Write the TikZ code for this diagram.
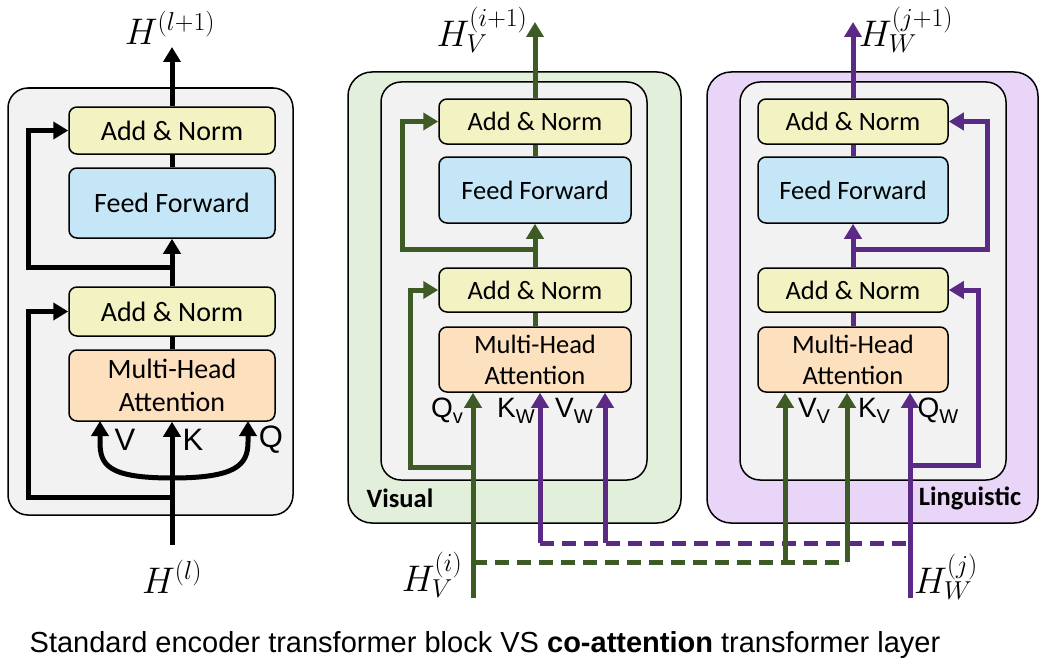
\RequirePackage{fix-cm}
\documentclass[tikz,border=0pt]{standalone}
\usepackage{fontspec}
\usetikzlibrary{arrows.meta}
\newfontfamily\carl{Carlito}
\newfontfamily\arl{Liberation Sans}
\definecolor{grn}{HTML}{3E5B25}
\definecolor{pur}{HTML}{5B2A86}
\definecolor{addc}{HTML}{F2F2C2}
\definecolor{ffc}{HTML}{C4E6F6}
\definecolor{mhac}{HTML}{FDE0BE}
\definecolor{grayc}{HTML}{F2F2F2}
\definecolor{grnbg}{HTML}{E2EFDA}
\definecolor{purbg}{HTML}{E8D5F8}
\newcommand{\sbs}[1]{{\fontsize{20}{20}\selectfont\raisebox{-6pt}{#1}}}
\begin{document}
\begin{tikzpicture}[x=1pt,y=-1pt,
  blk/.style={draw, line width=1.5pt, rounded corners=8pt, inner sep=0pt, align=center},
  addL/.style={blk, fill=addc, minimum width=206pt, font=\carl\fontsize{28}{30}\selectfont},
  ffL/.style={blk, fill=ffc, minimum width=206pt, font=\carl\fontsize{28}{30}\selectfont},
  mhaL/.style={blk, fill=mhac, minimum width=206pt, font=\carl\fontsize{28}{30}\selectfont},
  addR/.style={blk, fill=addc, minimum width=192pt, font=\carl\fontsize{26.5}{30}\selectfont},
  ffR/.style={blk, fill=ffc, minimum width=192pt, font=\carl\fontsize{26.5}{30}\selectfont},
  mhaR/.style={blk, fill=mhac, minimum width=192pt, font=\carl\fontsize{26.5}{30}\selectfont},
  frame/.style={draw, line width=1.5pt, rounded corners=20pt},
  flow/.style={line width=5pt},
  arr/.style={flow, -{Triangle[length=15pt,width=17pt]}},
  dsh/.style={line width=5pt, dash pattern=on 14pt off 8pt},
  hlab/.style={inner sep=0pt, font=\fontsize{37}{42}\selectfont},
  io/.style={inner sep=0pt, font=\arl\fontsize{31}{34}\selectfont},
  ios/.style={inner sep=0pt, font=\arl\fontsize{28}{30}\selectfont},
  tag/.style={inner sep=0pt, font=\carl\bfseries\fontsize{26.5}{30}\selectfont}
]
\useasboundingbox (0,0) rectangle (1047,669);
\fill[white] (0,0) rectangle (1047,669);

% ---------------- left: standard block ----------------
\draw[frame, fill=grayc] (8,88) rectangle (293,515);
\node[addL, minimum height=47pt] (an1) at (172,130.5) {Add \& Norm};
\node[ffL, minimum height=70pt] (ff1) at (172,203) {Feed Forward};
\node[addL, minimum height=49pt] (an2) at (172,311.5) {Add \& Norm};
\node[mhaL, minimum height=71pt] (mha1) at (172,385.5) {Multi-Head\\[3pt]Attention};
\coordinate (hin) at (172,545);
\coordinate (hout) at (172,47);
\coordinate (r1) at (172,497);
\coordinate (r2) at (172,267);
\coordinate (cv) at (172,478);
\draw[arr] (hin) -- (mha1.south);
\draw[flow] (mha1.north) -- (an2.south);
\draw[arr] (an2.north) -- (ff1.south);
\draw[flow] (ff1.north) -- (an1.south);
\draw[arr] (an1.north) -- (hout);
\draw[arr] (r1) -- (28,497) -- (28,311.5) -- (an2.west);
\draw[arr] (r2) -- (28,267) -- (28,130.5) -- (an1.west);
\draw[arr] (cv) .. controls (108,478) and (100,465) .. (100,442) -- (100,421);
\draw[arr] (cv) .. controls (236,478) and (248,465) .. (248,442) -- (248,421);
\node[io] (lv) at (125,440) {V};
\node[io] (lk) at (193,440) {K};
\node[io] (lq) at (271,440) {Q};
\node[hlab] (hl1) at (170,28) {$H^{(l+1)}$};
\node[hlab] (hl) at (172,577) {$H^{(l)}$};

% ---------------- middle: visual stream ----------------
\draw[frame, fill=grnbg, rounded corners=24pt] (348,72) rectangle (681,523);
\draw[frame, fill=grayc] (381,82) rectangle (647,480);
\node[addR, minimum height=45pt] (an3) at (535,121.5) {Add \& Norm};
\node[ffR, minimum height=66pt] (ff2) at (535,190) {Feed Forward};
\node[addR, minimum height=44pt] (an4) at (535,290) {Add \& Norm};
\node[mhaR, minimum height=65pt] (mha2) at (535,359.5) {Multi-Head\\[1pt]Attention};
\node[tag] (vis) at (400,498) {Visual};

% ---------------- right: linguistic stream ----------------
\draw[frame, fill=purbg, rounded corners=24pt] (707,72) rectangle (1038,523);
\draw[frame, fill=grayc] (740,82) rectangle (1006,480);
\node[addR, minimum width=190pt, minimum height=45pt] (an5) at (853,121.5) {Add \& Norm};
\node[ffR, minimum width=190pt, minimum height=66pt] (ff3) at (853,190) {Feed Forward};
\node[addR, minimum width=190pt, minimum height=44pt] (an6) at (853,290) {Add \& Norm};
\node[mhaR, minimum width=190pt, minimum height=65pt] (mha3) at (853,359.5) {Multi-Head\\[1pt]Attention};
\node[tag] (lin) at (970,498) {Linguistic};

% ---------------- cross connections (dashed) ----------------
\coordinate (hv) at (473,598);
\coordinate (hw) at (910,598);
\coordinate (gd) at (473,562);
\coordinate (gk) at (847,562);
\coordinate (gv) at (785,562);
\coordinate (pk) at (540,543);
\coordinate (pv) at (605,543);
\coordinate (pd) at (910,543);
\draw[dsh, grn] (gd) -- (gk);
\draw[dsh, pur] (pk) -- (pd);

% green flows
\begin{scope}[grn]
\draw[arr] (hv) -- (hv |- mha2.south);
\draw[arr] (473,467) -- (410,467) -- (410,290) -- (an4.west);
\draw[flow] (mha2.north) -- (an4.south);
\draw[arr] (an4.north) -- (ff2.south);
\draw[flow] (ff2.north) -- (an3.south);
\draw[arr] (an3.north) -- (535,22);
\draw[arr] (535,249) -- (402,249) -- (402,121.5) -- (an3.west);
\draw[arr] (gv) -- (gv |- mha3.south);
\draw[arr] (gk) -- (gk |- mha3.south);
\end{scope}

% purple flows
\begin{scope}[pur]
\draw[arr] (hw) -- (hw |- mha3.south);
\draw[arr] (910,465) -- (978,465) -- (978,290) -- (an6.east);
\draw[flow] (mha3.north) -- (an6.south);
\draw[arr] (an6.north) -- (ff3.south);
\draw[flow] (ff3.north) -- (an5.south);
\draw[arr] (an5.north) -- (853,22);
\draw[arr] (853,249) -- (987,249) -- (987,121.5) -- (an5.east);
\draw[arr] (pk) -- (pk |- mha2.south);
\draw[arr] (pv) -- (pv |- mha2.south);
\end{scope}

% labels of the co-attention inputs
\node[ios] (qv) at (447,411) {Q\sbs{v}};
\node[ios] (kw) at (516,411) {K\sbs{W}};
\node[ios] (vw) at (574,411) {V\sbs{W}};
\node[ios] (vv) at (814,411) {V\sbs{V}};
\node[ios] (kv) at (874,411) {K\sbs{V}};
\node[ios] (qw) at (938,411) {Q\sbs{W}};

\node[hlab] (hvo) at (482,30) {$H_V^{(i+1)}$};
\node[hlab] (hwo) at (906,30) {$H_W^{(j+1)}$};
\node[hlab] (hvi) at (432,575) {$H_V^{(i)}$};
\node[hlab] (hwi) at (946,577) {$H_W^{(j)}$};

\node[inner sep=0pt, font=\arl\fontsize{29}{32}\selectfont] (cap) at (485,645)
  {Standard encoder transformer block VS \textbf{co-attention} transformer layer};
\end{tikzpicture}
\end{document}
